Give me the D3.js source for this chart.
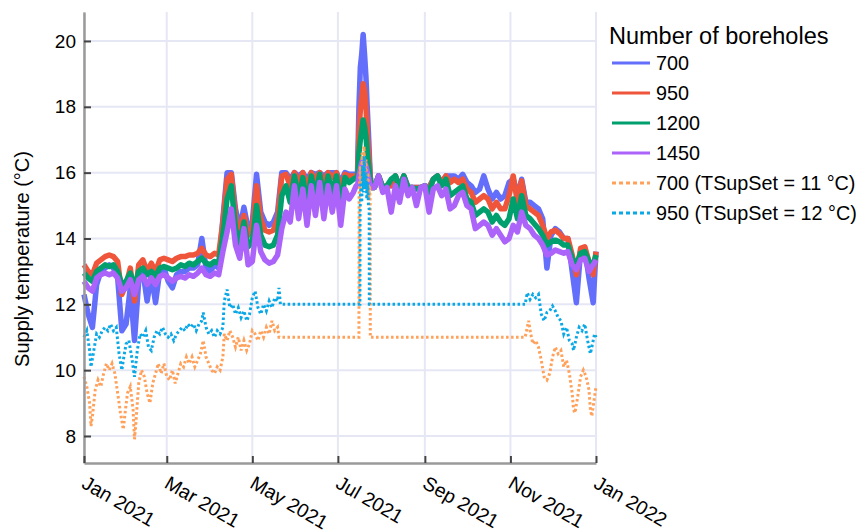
<!DOCTYPE html>
<html lang="en">
<head>
<meta charset="utf-8">
<title>Supply temperature</title>
<script src="https://cdn.jsdelivr.net/npm/d3@7"></script>
<style>
  body { margin: 0; background: #fff; }
  svg { font-family: "Liberation Sans", Arial, sans-serif; }
</style>
</head>
<body>
<svg id="chart" width="858" height="530"></svg>
<script>
// day offsets from 1 Jan 2021 (shared by the four borehole series)
const days = [0,3,6,9,12,15,18,21,24,27,30,33,36,39,42,45,48,51,54,57,60,63,66,69,72,75,78,81,84,87,90,93,96,99,
  102,105,108,111,114,117,120,123,126,129,132,135,138,141,144,
  147,150,153,156,159,162,165,168,171,174,177,180,183,186,189,
  192,194,195,196,197,198,199,200,201,202,203,204,205,
  207,210,213,216,219,222,225,228,231,234,237,240,243,246,249,252,255,258,
  261,264,267,270,273,276,279,282,285,288,291,294,297,300,303,
  306,309,312,315,318,321,324,327,330,333,336,339,342,345,348,351,354,357,360,363,365];

const t700 = [12.3,11.7,11.3,12.6,13.0,13.1,13.2,13.1,12.8,11.2,11.4,12.5,10.9,12.7,13.0,12.1,12.9,12.05,13.0,13.1,12.7,12.5,12.9,13.0,13.0,13.1,13.1,13.2,14.0,13.1,13.0,13.2,13.1,14.6,
  16.0,16.0,14.9,14.3,14.95,14.3,14.5,15.95,14.8,14.5,14.4,14.5,14.8,16.0,16.0,
  15.8,16.0,15.9,16.0,15.8,16.0,15.95,16.0,15.9,16.0,16.0,16.0,15.7,16.0,15.95,
  15.95,15.95,16.0,18.0,19.2,19.6,20.2,19.6,18.9,17.9,17.0,15.9,15.55,
  15.55,15.9,15.55,15.6,15.6,15.9,15.55,15.9,15.55,15.55,15.55,15.55,15.6,15.55,15.8,15.9,15.7,15.9,
  15.9,15.9,15.8,15.95,15.7,15.6,15.4,15.5,15.9,15.5,15.2,15.4,15.2,15.3,15.7,
  15.8,15.3,15.8,15.1,15.1,15.0,14.9,14.6,13.1,14.1,14.3,14.2,14.0,14.0,13.0,12.05,13.6,13.7,12.8,12.05,13.6];

const t950 = [13.2,13.0,12.9,13.25,13.35,13.45,13.5,13.45,13.3,12.3,12.6,13.1,12.1,13.2,13.35,13.0,13.25,13.0,13.35,13.4,13.35,13.3,13.4,13.45,13.45,13.5,13.5,13.55,13.7,13.5,13.45,13.55,13.5,14.5,
  15.8,15.95,14.7,14.1,14.7,14.1,14.3,15.6,14.6,14.25,14.2,14.25,14.6,15.9,15.95,
  15.6,16.0,15.7,16.0,15.5,16.0,15.8,16.0,15.7,16.0,15.85,16.0,15.5,15.95,15.9,
  15.9,15.9,15.9,17.2,17.9,18.3,18.7,18.5,18.0,17.2,16.6,15.9,15.55,
  15.55,15.9,15.55,15.6,15.6,15.9,15.55,15.9,15.55,15.55,15.55,15.55,15.6,15.55,15.8,15.9,15.7,15.9,
  15.7,15.8,15.7,15.8,15.5,15.4,15.1,15.2,15.3,15.2,14.9,15.1,14.9,14.9,15.3,
  15.9,15.1,15.75,15.0,14.9,14.8,14.7,14.4,14.0,14.2,14.25,14.15,14.0,14.0,13.5,12.9,13.7,13.75,13.3,12.9,13.6];

const t1200 = [12.95,12.8,12.7,13.0,13.1,13.2,13.15,13.2,13.0,12.6,12.7,12.95,12.5,13.0,13.1,12.9,13.0,12.85,13.1,13.15,13.1,13.05,13.1,13.2,13.15,13.25,13.2,13.3,13.4,13.25,13.2,13.3,13.25,14.1,
  15.2,15.6,14.3,13.85,14.5,13.75,13.9,15.0,14.1,13.8,13.75,13.8,14.1,15.3,15.6,
  15.1,15.9,15.2,15.85,15.0,15.9,15.3,15.95,15.2,15.9,15.4,15.9,15.0,15.85,15.7,
  15.8,15.85,15.8,16.6,17.0,17.3,17.6,17.4,17.1,16.6,16.2,15.8,15.55,
  15.55,15.9,15.55,15.6,15.8,15.9,15.55,15.9,15.55,15.55,15.5,15.55,15.6,15.4,15.8,15.9,15.6,15.8,
  15.3,15.4,15.5,15.6,15.2,15.1,14.7,14.8,14.9,14.8,14.5,14.7,14.5,14.4,14.6,
  15.2,14.6,15.3,14.7,14.6,14.45,14.3,14.1,13.8,13.9,13.95,13.9,13.8,13.8,13.4,13.2,13.55,13.6,13.3,13.2,13.5];

const t1450 = [12.7,12.5,12.4,12.8,12.9,12.95,12.9,12.95,12.8,12.4,12.5,12.75,12.3,12.75,12.85,12.6,12.8,12.6,12.85,12.9,12.8,12.7,12.8,12.85,12.8,12.9,12.85,12.95,13.1,12.9,12.85,12.95,12.9,13.6,
  14.2,14.9,13.8,13.4,14.3,13.2,13.3,14.4,13.6,13.35,13.25,13.3,13.5,14.3,14.8,
  14.5,15.6,14.6,15.5,14.4,15.6,14.7,15.7,14.6,15.6,14.8,15.6,14.4,15.5,15.2,
  15.4,15.6,15.6,15.9,16.1,16.3,16.4,16.3,16.2,16.0,15.8,15.6,15.55,
  15.55,15.9,15.4,15.55,14.8,15.6,15.1,15.8,15.3,15.55,15.0,15.55,15.6,14.8,15.5,15.6,15.3,15.5,
  14.9,15.0,15.3,15.4,15.0,14.9,14.3,14.4,14.5,14.4,14.1,14.3,14.1,13.9,14.0,
  14.4,14.2,14.8,14.4,14.3,14.1,14.0,13.8,13.5,13.55,13.65,13.6,13.55,13.6,13.2,13.05,13.35,13.4,13.0,13.2,13.35];

// [day, temperature] for the two fixed set-point runs
const set11 = [[0,9.8],[2,9.5],[4,9.0],[5,8.3],[6,8.6],[8,9.4],[10,9.7],[12,9.5],[14,9.9],[16,10.2],[18,10.0],[20,10.2],[22,9.9],[24,9.3],[26,8.7],[28,8.2],[29,8.6],[31,9.3],[33,9.5],[35,8.8],[36,7.9],[37,8.4],[39,9.6],[41,10.0],[43,9.8],[45,9.3],[47,9.0],[49,9.6],[51,9.9],[53,10.2],[55,9.9],[57,10.2],[59,9.8],[61,9.7],[63,10.0],[65,9.6],[67,9.9],[69,10.2],[71,10.1],[73,10.4],[75,10.2],[77,10.4],[79,10.1],[81,10.3],[83,10.5],[85,10.9],[87,10.4],[89,10.2],[91,10.0],[93,9.9],[95,10.1],[97,10.0],[99,10.4],
  [100,11.1],[102,10.9],[104,11.2],[106,11.0],[108,10.7],[110,11.0],[112,10.6],[114,10.9],[116,10.6],[118,10.8],[120,11.2],[122,11.1],[124,10.9],[126,11.2],[128,11.0],[130,11.3],[132,11.1],[134,11.5],[136,11.2],[138,11.3],[139,11.0],
  [196,11.0],[196.1,15.3],[197,16.2],[197.6,15.5],[198.3,16.6],[199,15.7],[199.6,16.8],[200.3,15.8],[201,16.4],[201.7,15.4],[202.4,16.0],[203,15.2],[203.7,15.6],[204,15.0],[204.1,11.0],
  [314.5,11.0],[316,11.3],[317,11.5],[318,11.2],[320,10.8],[322,10.9],[324,10.7],[326,10.3],[328,9.8],[330,9.7],[332,9.9],[334,10.4],[336,10.7],[338,10.5],[340,10.6],[342,10.1],[344,10.3],[346,9.9],[348,9.3],[349,8.8],[350,8.7],[352,9.2],[354,9.8],[356,10.0],[358,9.8],[360,9.4],[361,8.8],[362,8.6],[364,9.2],[365,9.5]];

const set12 = [[0,11.0],[2,11.2],[4,10.6],[5,10.1],[7,10.6],[9,11.1],[11,11.0],[13,11.2],[15,11.3],[17,11.2],[19,11.4],[21,11.2],[23,11.3],[25,10.5],[27,10.0],[28,10.3],[30,10.8],[32,10.9],[34,10.4],[36,9.8],[38,10.6],[40,11.1],[42,11.0],[44,11.2],[46,10.7],[48,10.6],[50,11.0],[52,11.2],[54,11.1],[56,11.3],[58,11.1],[60,11.0],[62,11.1],[64,10.9],[66,11.1],[68,11.2],[70,11.3],[72,11.2],[74,11.4],[76,11.3],[78,11.4],[80,11.2],[82,11.4],[84,11.5],[85,11.75],[87,11.3],[89,11.1],[91,11.2],[93,11.0],[95,11.2],[97,11.1],[99,11.3],
  [100,12.1],[102,12.45],[104,11.9],[106,12.0],[108,11.7],[110,11.9],[112,11.6],[114,11.8],[116,11.5],[118,11.7],[120,12.2],[122,12.4],[124,11.9],[126,11.7],[128,12.0],[130,11.8],[132,12.1],[134,11.9],[136,12.2],[138,12.1],[139,12.5],[140,12.0],
  [196.7,12.0],[196.8,14.8],[197.4,15.7],[198,15.1],[198.6,16.2],[199.2,15.4],[199.8,16.5],[200.4,15.5],[201,16.0],[201.6,15.2],[202.2,15.7],[202.8,15.0],[203.3,14.9],[203.4,12.0],
  [314.5,12.0],[316,12.35],[318,12.15],[320,12.3],[322,12.2],[324,12.3],[326,11.7],[328,11.5],[330,11.75],[332,11.8],[334,11.95],[336,11.8],[338,11.6],[340,11.5],[342,11.1],[344,11.3],[346,10.9],[348,10.8],[349,10.6],[351,11.0],[353,11.3],[355,11.2],[357,11.4],[359,10.9],[361,10.5],[362,10.7],[364,11.1],[365,11.0]];

const legendLabels = ['700', '950', '1200', '1450', '700 (TSupSet = 11 °C)', '950 (TSupSet = 12 °C)'];
const colors = ['#636efa', '#ef553b', '#00a06e', '#ab63fa', '#ffa15a', '#0aa8e6'];
const yTicks = [8, 10, 12, 14, 16, 18, 20];

const svg = d3.select('#chart');
const start = Date.UTC(2021, 0, 1);
const toDate = function(d) { return new Date(start + d * 864e5); };

var x = d3.scaleUtc().domain([new Date(start), new Date(Date.UTC(2022, 0, 1))]).range([84, 596]);
var y = d3.scaleLinear().domain([7.18, 20.88]).range([463, 12]);
var xTicks = d3.utcMonth.every(2).range(new Date(start), new Date(Date.UTC(2022, 0, 2)));

// grid
svg.append('g').selectAll('line').data(xTicks).enter().append('line')
  .attr('x1', d => x(d)).attr('x2', d => x(d)).attr('y1', 12).attr('y2', 463)
  .attr('stroke', '#e6e7f4').attr('stroke-width', 2);
svg.append('g').selectAll('line').data(yTicks).enter().append('line')
  .attr('x1', 84).attr('x2', 596).attr('y1', d => y(d)).attr('y2', d => y(d))
  .attr('stroke', '#e6e7f4').attr('stroke-width', 2);

// lines
var line = d3.line().x(d => x(toDate(d[0]))).y(d => y(d[1]));
var solid = [t700, t950, t1200, t1450];
solid.forEach(function(vals, i) {
  svg.append('path')
    .datum(days.map((d, j) => [d, vals[j]]))
    .attr('d', line)
    .attr('fill', 'none')
    .attr('stroke', colors[i])
    .attr('stroke-width', 5.5)
    .attr('stroke-linejoin', 'round');
});
[set11, set12].forEach(function(pts, i) {
  svg.append('path')
    .datum(pts)
    .attr('d', line)
    .attr('fill', 'none')
    .attr('stroke', colors[4 + i])
    .attr('stroke-width', 3)
    .attr('stroke-dasharray', '2.5,2.5');
});

// axes
var yAxis = svg.append('g')
  .attr('transform', 'translate(84,0)')
  .call(d3.axisLeft(y).tickValues(yTicks).tickSize(-7).tickSizeOuter(0).tickPadding(8));
var xAxis = svg.append('g')
  .attr('transform', 'translate(0,463)')
  .call(d3.axisBottom(x).tickValues(xTicks).tickSize(-7).tickSizeOuter(0).tickFormat(d3.utcFormat('%b %Y')));
[yAxis, xAxis].forEach(function(a) {
  a.select('.domain').attr('stroke', '#9a9a9a').attr('stroke-width', 2.5);
  a.selectAll('.tick line').attr('stroke', '#444').attr('stroke-width', 2);
  a.selectAll('text').attr('fill', '#000').style('font-size', '19px')
    .style('font-family', '"Liberation Sans", Arial, sans-serif');
});
xAxis.selectAll('text')
  .attr('x', 0).attr('y', 0).attr('dy', 0)
  .attr('text-anchor', 'start')
  .style('font-size', '19.5px')
  .attr('transform', 'translate(-4,24) rotate(30)');

svg.append('text')
  .attr('transform', 'translate(29,259) rotate(-90)')
  .attr('text-anchor', 'middle')
  .style('font-size', '20px')
  .text('Supply temperature (°C)');

// legend
svg.append('text').attr('x', 609).attr('y', 44).style('font-size', '23.5px').text('Number of boreholes');
var leg = svg.append('g').selectAll('g').data(legendLabels).enter().append('g')
  .attr('transform', (d, i) => 'translate(0,' + (63 + i * 30) + ')');
leg.append('line')
  .attr('x1', 612).attr('x2', 650).attr('y1', 0).attr('y2', 0)
  .attr('stroke', (d, i) => colors[i])
  .attr('stroke-width', 3)
  .attr('stroke-dasharray', (d, i) => i > 3 ? '4,3' : null);
leg.append('text')
  .attr('x', 656).attr('y', 0).attr('dy', '0.35em')
  .style('font-size', '19.8px')
  .text(d => d);
</script>
</body>
</html>
